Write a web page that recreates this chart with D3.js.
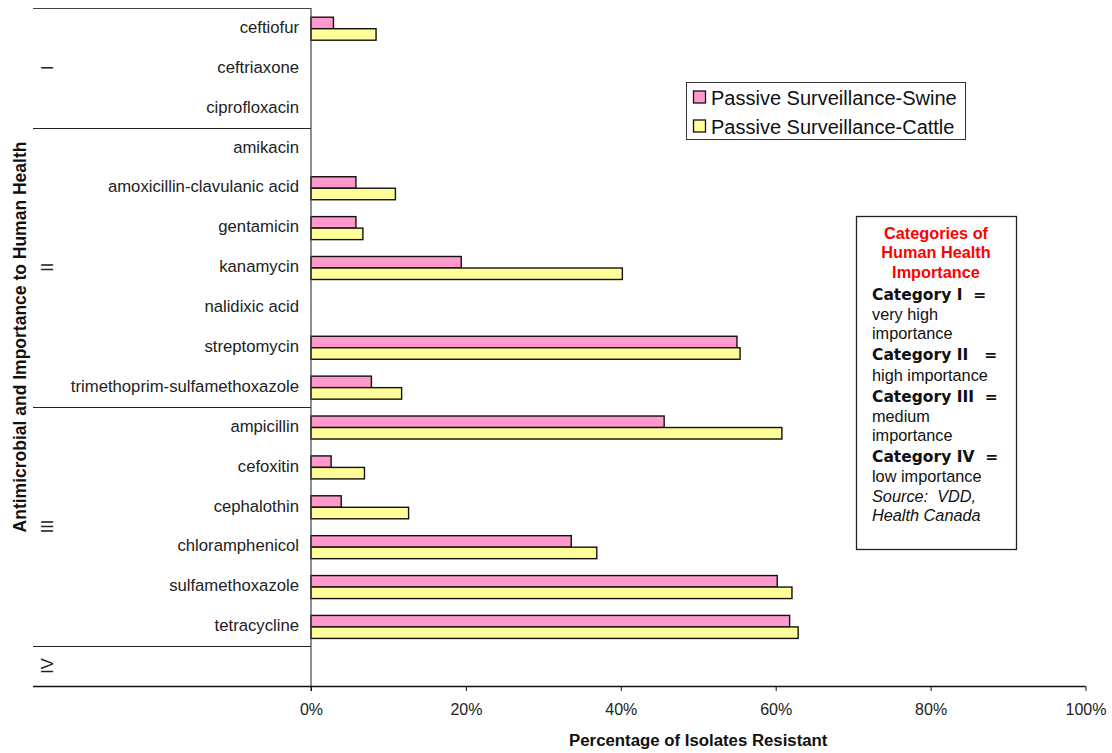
<!DOCTYPE html>
<html>
<head>
<meta charset="utf-8">
<script src="https://cdn.jsdelivr.net/npm/d3@7/dist/d3.min.js"></script>
<style>
  html, body { margin: 0; padding: 0; background: #fff; }
  svg { display: block; font-family: "Liberation Sans", Arial, sans-serif; }
</style>
</head>
<body>
<svg id="chart" width="1112" height="753"></svg>
<script>
// Antimicrobials, top to bottom; "" marks the empty Category IV row
const drugs = [
  "ceftiofur", "ceftriaxone", "ciprofloxacin",
  "amikacin", "amoxicillin-clavulanic acid", "gentamicin", "kanamycin",
  "nalidixic acid", "streptomycin", "trimethoprim-sulfamethoxazole",
  "ampicillin", "cefoxitin", "cephalothin", "chloramphenicol",
  "sulfamethoxazole", "tetracycline",
  ""
];

// Percentage of isolates resistant (null = no bar)
const swine = [2.9, null, null, null, 5.8, 5.8, 19.4, null, 55.0, 7.8,
               45.6, 2.6, 3.9, 33.6, 60.2, 61.8, null];
const cattle = [8.4, null, null, null, 10.9, 6.7, 40.2, null, 55.4, 11.7,
                60.8, 6.9, 12.6, 36.9, 62.1, 62.9, null];

const seriesNames = ["Passive Surveillance-Swine", "Passive Surveillance-Cattle"];
const seriesColors = ["#ff99cc", "#ffff99"];

// Importance categories and the rows they span
const categories = ["I", "II", "III", "IV"];
const categoryStart = [0, 3, 10, 16];
const categoryEnd = [3, 10, 16, 17];

const xTicks = [0, 20, 40, 60, 80, 100];

const noteLines = [
  { text: "Categories of", kind: "head" },
  { text: "Human Health", kind: "head" },
  { text: "Importance", kind: "head" },
  { text: "Category I  =", kind: "cat" },
  { text: "very high", kind: "body" },
  { text: "importance", kind: "body" },
  { text: "Category II   =", kind: "cat" },
  { text: "high importance", kind: "body" },
  { text: "Category III  =", kind: "cat" },
  { text: "medium", kind: "body" },
  { text: "importance", kind: "body" },
  { text: "Category IV  =", kind: "cat" },
  { text: "low importance", kind: "body" },
  { text: "Source:  VDD,", kind: "src" },
  { text: "Health Canada", kind: "src" }
];

const svg = d3.select("#chart");
const plotLeft = 311, plotRight = 1085.5, plotTop = 8, plotBottom = 686;
const catLeft = 33;

const x = d3.scaleLinear().domain([0, 100]).range([plotLeft, plotRight]);
const yRows = d3.scaleBand().domain(d3.range(drugs.length)).range([plotTop, plotBottom]);
const bh = yRows.bandwidth();
const barH = 11.5;
const groupOffset = 9.2;

// Category separators and frame on the left
const frame = svg.append("g");
frame.append("line")
  .attr("x1", catLeft).attr("x2", plotLeft)
  .attr("y1", plotTop + 0.5).attr("y2", plotTop + 0.5)
  .attr("stroke", "#444").attr("stroke-width", 1);
categoryEnd.forEach(e => {
  const yy = Math.round(yRows(e - 1) + bh) + 0.5;
  frame.append("line")
    .attr("x1", catLeft).attr("x2", plotLeft)
    .attr("y1", yy).attr("y2", yy)
    .attr("stroke", "#222").attr("stroke-width", 1.2);
});

// Roman numerals, rotated
categories.forEach((c, i) => {
  const y0 = yRows(categoryStart[i]);
  const y1 = yRows(categoryEnd[i] - 1) + bh;
  const cy = (y0 + y1) / 2;
  svg.append("text")
    .attr("transform", `translate(47,${cy}) rotate(-90)`)
    .attr("text-anchor", "middle")
    .attr("dominant-baseline", "central")
    .attr("font-size", 16.5)
    .attr("fill", "#222")
    .text(c);
});

// Drug labels
svg.append("g").selectAll("text")
  .data(drugs)
  .join("text")
  .attr("x", 299)
  .attr("y", (d, i) => yRows(i) + bh / 2 - 0.5)
  .attr("text-anchor", "end")
  .attr("dominant-baseline", "central")
  .attr("font-size", 16.7)
  .attr("fill", "#222")
  .text(d => d);

// Bars
const barsG = svg.append("g");
[swine, cattle].forEach((vals, s) => {
  barsG.append("g").selectAll("rect")
    .data(vals.map((v, i) => ({ v, i })).filter(d => d.v !== null))
    .join("rect")
    .attr("x", x(0))
    .attr("y", d => yRows(d.i) + groupOffset + s * barH)
    .attr("width", d => x(d.v) - x(0))
    .attr("height", barH)
    .attr("fill", seriesColors[s])
    .attr("stroke", "#111")
    .attr("stroke-width", 1.4);
});

// Vertical axis line
svg.append("line")
  .attr("x1", plotLeft).attr("x2", plotLeft)
  .attr("y1", plotTop).attr("y2", plotBottom + 5)
  .attr("stroke", "#444").attr("stroke-width", 1.2);

// X axis
const xAxis = d3.axisBottom(x)
  .tickValues(xTicks)
  .tickFormat(d => d + "%")
  .tickSize(5)
  .tickPadding(13);
const xg = svg.append("g")
  .attr("transform", `translate(0,${plotBottom})`)
  .call(xAxis);
xg.select(".domain").remove();
xg.selectAll(".tick line").attr("stroke", "#111").attr("stroke-width", 1);
xg.selectAll(".tick text")
  .attr("font-family", "'Liberation Sans', Arial, sans-serif")
  .attr("font-size", 16)
  .attr("fill", "#222");
svg.append("line")
  .attr("x1", catLeft).attr("x2", plotRight)
  .attr("y1", plotBottom + 0.5).attr("y2", plotBottom + 0.5)
  .attr("stroke", "#111").attr("stroke-width", 1.3);

// Axis titles
svg.append("text")
  .attr("x", (plotLeft + plotRight) / 2)
  .attr("y", 746)
  .attr("text-anchor", "middle")
  .attr("font-size", 16.8)
  .attr("font-weight", "bold")
  .attr("fill", "#111")
  .text("Percentage of Isolates Resistant");

svg.append("text")
  .attr("transform", `translate(20,337) rotate(-90)`)
  .attr("text-anchor", "middle")
  .attr("dominant-baseline", "central")
  .attr("font-size", 17.5)
  .attr("font-weight", "bold")
  .attr("fill", "#111")
  .text("Antimicrobial and Importance to Human Health");

// Series legend
const lg = svg.append("g");
lg.append("rect")
  .attr("x", 686.5).attr("y", 82.5).attr("width", 279).attr("height", 57)
  .attr("fill", "#fff").attr("stroke", "#333").attr("stroke-width", 1);
seriesNames.forEach((n, i) => {
  const yy = 91 + i * 29;
  lg.append("rect")
    .attr("x", 693.5).attr("y", yy).attr("width", 12).attr("height", 12)
    .attr("fill", seriesColors[i]).attr("stroke", "#111").attr("stroke-width", 1.3);
  lg.append("text")
    .attr("x", 711).attr("y", yy + 6.5)
    .attr("dominant-baseline", "central")
    .attr("font-size", 20)
    .attr("fill", "#111")
    .text(n);
});

// Importance note box
const ng = svg.append("g");
ng.append("rect")
  .attr("x", 856.5).attr("y", 216.5).attr("width", 160).attr("height", 333)
  .attr("fill", "#fff").attr("stroke", "#222").attr("stroke-width", 1.3);
let ny = 233;
noteLines.forEach((l, i) => {
  const t = ng.append("text")
    .attr("dominant-baseline", "central")
    .attr("font-size", 16.3)
    .attr("fill", "#111")
    .style("white-space", "pre")
    .text(l.text);
  if (l.kind === "head") {
    t.attr("x", 936).attr("text-anchor", "middle")
     .attr("font-weight", "bold").attr("fill", "#ff0000");
  } else if (l.kind === "cat") {
    t.attr("x", 872).attr("font-family", "'DejaVu Sans', sans-serif")
     .attr("font-weight", "bold").attr("font-size", 15.5);
  } else if (l.kind === "src") {
    t.attr("x", 872).attr("font-style", "italic");
  } else {
    t.attr("x", 872);
  }
  t.attr("y", ny);
  const next = noteLines[i + 1];
  ny += (l.kind === "head" && next && next.kind === "cat") ? 23 : (next && next.kind === "cat" ? 22 : 19.3);
});
</script>
</body>
</html>
